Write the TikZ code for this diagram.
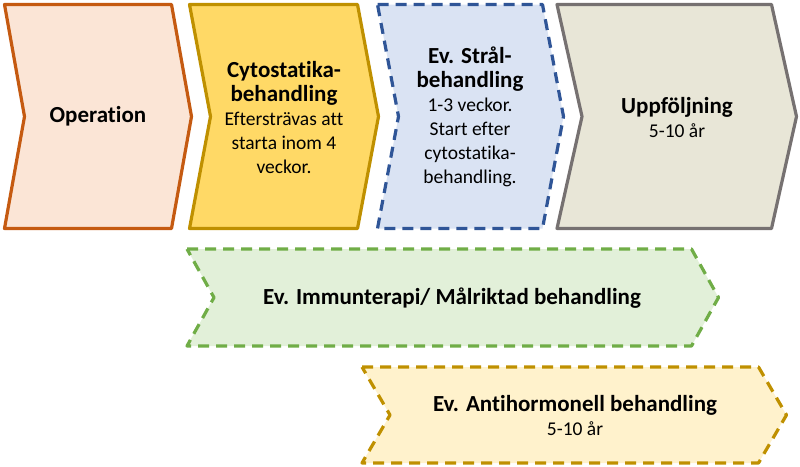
\documentclass[tikz,border=0pt]{standalone}
\usepackage{fontspec}
\setmainfont{Carlito}[Ligatures=NoCommon]
\usepackage{tikz}
\definecolor{oporange}{RGB}{197,90,17}
\definecolor{opfill}{RGB}{251,229,214}
\definecolor{cytgold}{RGB}{191,144,0}
\definecolor{cytfill}{RGB}{255,217,102}
\definecolor{strblue}{RGB}{47,85,151}
\definecolor{strfill}{RGB}{218,227,243}
\definecolor{uppgray}{RGB}{118,113,113}
\definecolor{uppfill}{RGB}{232,230,215}
\definecolor{immgreen}{RGB}{112,173,71}
\definecolor{immfill}{RGB}{226,240,217}
\definecolor{antfill}{RGB}{255,242,204}
\newcommand{\hdfont}{\fontsize{23}{25}\selectfont\bfseries}
\newcommand{\txfont}{\fontsize{19.5}{24}\selectfont}
% chevron: style, left x, tip x, top y, bottom y, depth
\newcommand{\chevron}[6]{%
  \draw[#1] (#2,#4) -- ({#3-#6},#4) -- (#3,{(#4+#5)/2})
    -- ({#3-#6},#5) -- (#2,#5) -- ({#2+#6},{(#4+#5)/2}) -- cycle;}
\tikzset{
  chev/.style={line width=3.2pt, line join=round},
  dashchev/.style={chev, dash pattern=on 11pt off 7pt},
  opchev/.style={chev, draw=oporange, fill=opfill},
  cytchev/.style={chev, draw=cytgold, fill=cytfill},
  strchev/.style={dashchev, draw=strblue, fill=strfill},
  uppchev/.style={chev, draw=uppgray, fill=uppfill},
  immchev/.style={dashchev, draw=immgreen, fill=immfill},
  antchev/.style={dashchev, draw=cytgold, fill=antfill},
  label/.style={align=center, font=\txfont, text=black, inner sep=0pt}
}
\begin{document}
\begin{tikzpicture}[x=1pt, y=-1pt]
  \useasboundingbox (0,0) rectangle (800,466);
  \chevron{opchev}{4.5}{191.5}{4.5}{228.5}{20}
  \chevron{cytchev}{189.5}{378.5}{4.5}{228.5}{21}
  \chevron{strchev}{377.5}{563.5}{4.5}{228.5}{21}
  \chevron{uppchev}{557}{796.5}{4.5}{228.5}{25}
  \chevron{immchev}{187}{718.5}{249}{346}{27}
  \chevron{antchev}{362}{786.5}{367}{463}{28}
  \node[label] (operation) at (98,116.5) {{\hdfont Operation}};
  \node[label] (cytostatika) at (284,118) {{\hdfont Cytostatika-}\\{\hdfont behandling}\\Eftersträvas att\\starta inom 4\\veckor.};
  \node[label] (stral) at (470,117) {{\hdfont Ev. Strål-}\\{\hdfont behandling}\\1-3 veckor.\\Start efter\\cytostatika-\\behandling.};
  \node[label] (uppfoljning) at (677,117) {{\hdfont Uppföljning}\\5-10 år};
  \node[label] (immunterapi) at (452,298) {{\hdfont Ev. Immunterapi/ Målriktad behandling}};
  \node[label] (antihormonell) at (575,415) {{\hdfont Ev. Antihormonell behandling}\\5-10 år};
\end{tikzpicture}
\end{document}
